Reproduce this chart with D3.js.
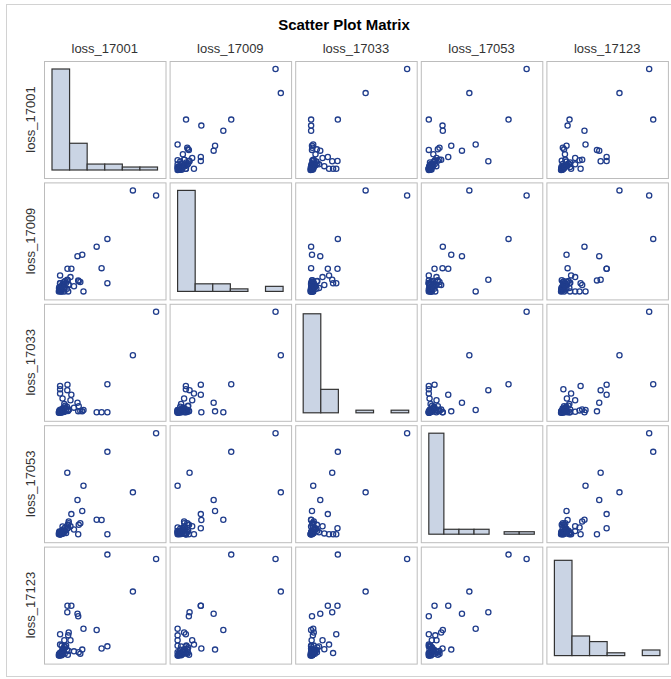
<!DOCTYPE html>
<meta charset="utf-8">
<style>

body {
  margin: 0;
  background: #fff;
}

text {
  font-family: "Liberation Sans", Arial, sans-serif;
}

.title {
  font-size: 15px;
  font-weight: bold;
  fill: #000;
}

.label {
  font-size: 13px;
  fill: #333;
}

.cell {
  fill: #fff;
  stroke: #bcbcbc;
}

.bar {
  fill: #cad4e4;
  stroke: #333;
  stroke-width: 1.2px;
}

.dot {
  fill: none;
  stroke: #203d8c;
  stroke-width: 1.3px;
}

</style>
<svg width="671" height="679"></svg>
<script src="https://cdn.jsdelivr.net/npm/d3@7"></script>
<script>

var names = ["loss_17001", "loss_17009", "loss_17033", "loss_17053", "loss_17123"];

// one value per observation, same order in every array
var loss_17001 = [5.92, 4.60, 3.15, 3.15, 2.82, 2.54, 1.79, 1.72, 1.45, 1.10, 0.88, 0.87, 1.49, 1.61,
  0.46, 0.46, 0.46, 0.60, 1.05, 0.95, 0.92, 0.70, 0.55, 1.52, 1.25,
  0.39, 0.41, 0.43, 0.40, 0.45, 0.48, 0.50, 0.53, 0.42, 0.47, 0.55, 0.52,
  0.58, 0.62, 0.65, 0.68, 0.72, 0.75, 0.60, 0.80, 0.85, 0.90, 0.70, 0.95];

var loss_17009 = [5.57, 5.87, 0.48, 3.05, 1.35, 2.60, 0.00, 2.13, 2.05, 1.32, 1.32, 0.68, 0.64, 0.55,
  0.47, 0.47, 0.93, 0.37, 0.83, 0.37, 0.00, 0.00, 0.00, 0.59, 0.30,
  0.00, 0.06, 0.12, 0.18, 0.03, 0.10, 0.15, 0.22, 0.25, 0.08, 0.20, 0.00,
  0.30, 0.45, 0.35, 0.55, 0.28, 0.60, 0.40, 0.50, 0.15, 0.65, 0.20, 0.38];

var loss_17033 = [5.91, 3.55, 0.45, 1.97, 0.45, 0.45, 0.57, 0.50, 0.97, 1.40, 1.95, 1.65, 0.50, 0.52,
  1.88, 1.70, 1.47, 1.20, 1.10, 0.60, 0.55, 0.48, 0.45, 0.78, 0.70,
  0.42, 0.44, 0.46, 0.48, 0.50, 0.43, 0.52, 0.45, 0.55, 0.58, 0.47, 0.49,
  0.62, 0.55, 0.70, 0.48, 0.66, 0.80, 0.45, 0.60, 0.75, 0.52, 0.90, 0.58];

var loss_17053 = [6.49, 2.69, 0.00, 5.29, 0.91, 0.93, 3.11, 1.49, 2.20, 1.29, 0.38, 3.95, 0.00, 0.71,
  0.00, 0.00, 0.00, 0.05, 0.51, 0.82, 0.43, 0.20, 0.10, 0.60, 0.30,
  0.00, 0.03, 0.06, 0.10, 0.14, 0.00, 0.04, 0.08, 0.18, 0.12, 0.02, 0.16,
  0.25, 0.05, 0.30, 0.15, 0.40, 0.22, 0.50, 0.08, 0.35, 0.60, 0.12, 0.70];

var loss_17123 = [5.39, 3.70, 0.86, 5.62, 0.75, 1.71, 1.77, 0.69, 2.55, 2.97, 2.97, 2.63, 2.42, 0.48,
  1.49, 0.51, 0.95, 0.71, 1.18, 1.58, 1.43, 1.18, 0.89, 0.55, 0.60,
  0.38, 0.40, 0.43, 0.46, 0.39, 0.48, 0.41, 0.50, 0.44, 0.53, 0.40, 0.55,
  0.60, 0.52, 0.65, 0.72, 0.47, 0.80, 0.58, 0.90, 0.68, 0.42, 0.85, 0.62];

var columns = [loss_17001, loss_17009, loss_17033, loss_17053, loss_17123];

// histogram bins per variable (unit bin width, starting at 0)
var binCount = [6, 6, 6, 7, 6];
var histHeadroom = [1, 1, 1.02, 1, 1.06];

var svg = d3.select("svg");

var x0 = 44, y0 = 61,
    cellW = 121.5, cellH = 117,
    stepX = 125.6, stepY = 121.4,
    pad = 8,
    n = names.length;

svg.append("rect")
    .attr("x", 6.5).attr("y", 4.5)
    .attr("width", 674).attr("height", 672)
    .attr("fill", "none")
    .attr("stroke", "#d2d2d2");

svg.append("text")
    .attr("class", "title")
    .attr("x", 344).attr("y", 30)
    .attr("text-anchor", "middle")
    .text("Scatter Plot Matrix");

var xs = columns.map(function(v, j) {
  return d3.scaleLinear().domain([0, binCount[j]]).range([pad, cellW - pad]);
});

var ys = columns.map(function(v) {
  return d3.scaleLinear().domain(d3.extent(v)).range([cellH - pad, pad]);
});

names.forEach(function(name, j) {
  svg.append("text")
      .attr("class", "label")
      .attr("x", x0 + j * stepX + cellW / 2)
      .attr("y", 53)
      .attr("text-anchor", "middle")
      .text(name);

  svg.append("text")
      .attr("class", "label")
      .attr("transform", "translate(35," + (y0 + j * stepY + cellH / 2) + ")rotate(-90)")
      .attr("text-anchor", "middle")
      .text(name);
});

var cells = [];
d3.range(n).forEach(function(i) {
  d3.range(n).forEach(function(j) { cells.push({row: i, col: j}); });
});

var cell = svg.selectAll(".cellg")
  .data(cells)
  .enter().append("g")
    .attr("class", "cellg")
    .attr("transform", function(d) {
      return "translate(" + (x0 + d.col * stepX) + "," + (y0 + d.row * stepY) + ")";
    });

cell.append("rect")
    .attr("class", "cell")
    .attr("x", 0.5).attr("y", 0.5)
    .attr("width", cellW).attr("height", cellH);

cell.each(function(d) {
  var g = d3.select(this),
      x = xs[d.col];

  if (d.row === d.col) {
    var v = columns[d.col];
    var bins = d3.bin()
        .domain([0, binCount[d.col]])
        .thresholds(d3.range(1, binCount[d.col]))(v);
    var hy = d3.scaleLinear()
        .domain([0, d3.max(bins, function(b) { return b.length; }) * histHeadroom[d.col]])
        .range([cellH - pad, pad]);

    g.selectAll(".bar")
      .data(bins)
      .enter().append("rect")
        .attr("class", "bar")
        .attr("x", function(b) { return x(b.x0); })
        .attr("width", function(b) { return x(b.x1) - x(b.x0); })
        .attr("y", function(b) { return hy(b.length); })
        .attr("height", function(b) { return hy(0) - hy(b.length); });
  } else {
    var xv = columns[d.col],
        yv = columns[d.row],
        y = ys[d.row];

    g.selectAll(".dot")
      .data(d3.range(xv.length))
      .enter().append("circle")
        .attr("class", "dot")
        .attr("r", 2.6)
        .attr("cx", function(k) { return x(xv[k]); })
        .attr("cy", function(k) { return y(yv[k]); });
  }
});

</script>
